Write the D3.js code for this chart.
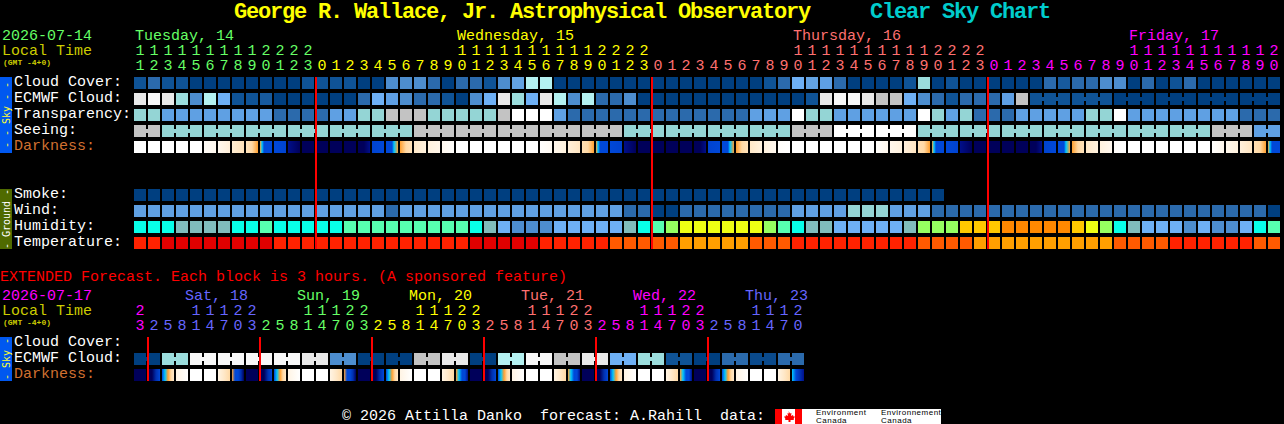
<!DOCTYPE html>
<html>
<head>
<meta charset="utf-8">
<title>Clear Sky Chart</title>
<script src="https://d3js.org/d3.v7.min.js"></script>
<style>
    body { margin: 0; background: #000; overflow: hidden; }
    svg { display: block; }
    text { font-family: "Liberation Mono", monospace; font-size: 15px; white-space: pre; }
    .title { font-size: 22px; font-weight: bold; letter-spacing: -1.2px; }
    .small { font-size: 8px; font-weight: bold; }
    .cell { shape-rendering: crispEdges; }
</style>
</head>
<body>
<div id="chart"></div>
<script>
// Hours along the top of the chart
const hours = [11,12,13,14,15,16,17,18,19,20,21,22,23,
    0,1,2,3,4,5,6,7,8,9,10,11,12,13,14,15,16,17,18,19,20,21,22,23,
    0,1,2,3,4,5,6,7,8,9,10,11,12,13,14,15,16,17,18,19,20,21,22,23,
    0,1,2,3,4,5,6,7,8,9,10,11,12,13,14,15,16,17,18,19,20];
const dayNames = ["Tuesday, 14", "Wednesday, 15", "Thursday, 16", "Friday, 17"];
const dayLabelCols = [0, 23, 47, 71];
const midnightCols = [13, 37, 61];

// Cloud levels in percent (also used for the ECMWF row)
const cloudCover = [10,20,10,10,0,0,0,0,0,0,0,0,10,10,10,10,0,0,30,30,30,
    20,0,20,20,10,30,40,70,70,0,0,0,0,0,0,0,0,0,0,0,0,0,0,0,10,20,50,40,45,20,0,
    0,0,0,10,60,0,10,0,0,0,0,0,0,20,15,20,20,30,30,0,20,0,10,20,0,0,0,0,0,0];
const ecmwfCloud = [90,100,90,60,30,70,50,10,10,15,0,0,0,0,0,0,20,50,45,30,20,
    20,10,0,30,50,90,60,50,90,70,30,70,20,20,30,0,0,0,0,0,0,0,0,0,0,0,0,10,90,100,100,
    90,80,80,50,30,20,10,20,20,20,45,80,10,10,10,10,10,10,0,0,0,0,0,0,0,0,0,0,0,0];
const ecmwfBlocks = [...d3.range(64).map(() => 1), 3, 3, 3, 3, 3, 3];

// Levels: 0 poor ... 4 excellent
const transparency = [2,2,1,1,1,1,1,1,1,1,0,0,0,0,1,1,2,2,3,3,3,
    2,2,2,2,2,3,4,4,4,1,0,0,0,0,0,0,0,0,0,0,0,0,0,1,1,1,4,2,2,1,1,
    1,1,1,1,4,2,1,2,0,0,0,1,1,1,1,1,2,2,4,1,1,1,1,1,1,1,1,0,0,0];
const seeing = [3,3,2,2,2,2,2,2,2,2,2,2,2,2,2,2,2,2,2,2,3,
    3,3,3,3,3,3,3,3,3,3,3,3,3,3,2,2,2,2,2,2,2,2,2,2,2,2,3,3,3,4,4,
    4,4,4,4,2,2,2,2,2,2,2,2,2,2,2,2,2,2,2,2,2,2,2,2,2,3,3,3,1,1];
const seeingBlocks = [2,3,3,3,3,3,3,3,3,3,3,3,3,3,3,3,3,3,3,3,3,3,3,3,3,3,3,2];

// Sampled darkness along each block, 0 daylight to 9 full night
const darkness = [[0],[0],[0],[0],[0],[0.3,0.6],[0.6,1.4],[1.6,2.4],[2.3,3,4],[4,5,6,6,6,6,6],
    [6,6.2],[8,9],[9],[9],[9],[9],[9,9,8],[6.2,6],[6,6,6,6,5,4.5,4],[4,3,2.4],[2,1.2],
    [1.2,0.8],[0.6,0.1],[0],[0],[0],[0],[0],[0],[0.1,0.5],[0.7,1.2],[1.4,2.2],[2.6,3,4],[4,5,6,6,6,6,6],
    [6,6.2],[8,9],[9],[9],[9],[9],[9,9,8],[6.2,6],[6,6,6,6,5,4.5,4],[4,3,2.4],[2,1.2],[1.2,0.6],[0.2,0],
    [0],[0],[0],[0],[0],[0],[0.1,0.7],[0.7,1.2],[1.3,2.2],[2.6,3,4],[4,5,6,6,6,6,6],
    [6,6.2],[8,9],[9],[9],[9],[9],[9,9,8],[6.2,6],[6,6,6,6,5,4.5,4],[4,3,2.4],[2,1.2],[1.2,0.6],[0.2,0],
    [0],[0],[0],[0],[0],[0],[0.1,0.7],[0.7,1.2],[1.3,2.2],[2.6,3,4],[4,5,6,6,6,6,6]];

const smoke = d3.range(58).map(() => 0);
const wind = [2,2,2,2,2,2,2,2,2,2,2,2,2,2,2,2,2,2,1,2,2,
    2,2,2,2,2,2,2,2,2,2,2,2,2,2,1,1,0,0,1,1,1,1,1,1,1,1,2,2,2,2,3,
    3,3,2,2,2,1,1,1,1,1,1,1,1,1,1,1,1,1,1,1,1,1,1,1,1,1,1,1,1,0];
// Humidity band names
const humidity = ["cy","cy","cy","gr","gr","gr","gr","cy","cy","mi","cy","cy","cy","cy","cy","mi","mi","mi","mi","mi","mi",
    "mi","mi","mi","cy","gr","sp","bl","bl","bl","sp","sp","sp","sp","sp","gr","cy","mi","li","ye","ye","ye","ye","ye","ye","li","mi","cy","gr","gr","sp","sp",
    "sp","sp","sp","gr","li","li","li","go","go","go","or","or","or","or","or","go","ye","li","cy","gr","sp","sp","sp","bl","sp","bl","bl","sp","cy","mi"];
// Temperature bands: 0 coldest of this chart ... 3 warmest
const temperature = [1,1,0,0,0,0,0,0,0,0,1,1,1,1,1,1,1,1,1,1,1,
    1,1,1,0,0,0,0,0,1,1,1,1,1,2,2,2,2,2,3,3,3,3,3,2,2,2,1,1,1,1,1,
    1,1,1,1,2,2,2,2,3,3,3,3,3,3,3,3,3,3,2,2,2,2,1,1,1,1,1,1,2,2];

// Extended forecast, one entry per three hours
const extHours = [23,2,5,8,11,14,17,20,23,2,5,8,11,14,17,20,23,2,5,8,11,14,17,20,
    23,2,5,8,11,14,17,20,23,2,5,8,11,14,17,20,23,2,5,8,11,14,17,20];
const extDayNames = ["Sat, 18", "Sun, 19", "Mon, 20", "Tue, 21", "Wed, 22", "Thu, 23"];
const extCloud = [0,0,60,60,100,100,100,100,100,100,100,100,90,90,30,30,0,0,0,0,80,80,90,90,
    0,0,70,70,100,100,80,80,90,90,50,50,60,60,10,10,0,0,20,20,5,5,20,20];
const extDarkness = [[9],[9,9,7,6],[6,5,4,3,2],[1,0],[0],[0],[1,2,3],[4,6,6,7,9],
    [9],[9,9,7,6],[6,5,4,3,2],[1,0],[0],[0],[1,2,3],[4,6,6,7,9],
    [9],[9,9,7,6],[6,5,4,3,2],[1,0],[0],[0],[1,2,3],[4,5,6,6,8],
    [9],[9,9,7,6],[6,5,4,3,2],[1,0],[0],[0],[1,2,3],[4,5,6,6,8],
    [9],[9,9,7,6],[6,5,4,3,2],[1,0],[0],[0],[1,2,3],[4,5,6,6,8],
    [9],[9,9,7,6],[6,5,4,3,2],[1,0],[0],[0],[1,2,3],[5,6,7,8]];

const rowNames = ["Cloud Cover:", "ECMWF Cloud:", "Transparency:", "Seeing:", "Darkness:"];
const groundNames = ["Smoke:", "Wind:", "Humidity:", "Temperature:"];
const extRowNames = ["Cloud Cover:", "ECMWF Cloud:", "Darkness:"];

// Colours
const cloudColor = d3.scaleOrdinal()
    .domain([0,5,10,15,20,30,40,45,50,60,70,80,90,100])
    .range(["#003f80","#0a4a8c","#0f5396","#175a9e","#2b6aac","#4d8dce","#63a3e3","#5e9fe4","#6eb0f5","#9bdddd","#b4f1f1","#c3c3c3","#e9e9e9","#f8f8f8"]);
const skyLevel = d3.scaleOrdinal().domain([0,1,2,3,4])
    .range(["#2b6aac","#5fa0e3","#94d5d5","#c3c3c3","#ffffff"]);
const windColor = d3.scaleOrdinal().domain([0,1,2,3])
    .range(["#003f80","#2b6aac","#5fa0e3","#94d5d5"]);
const humidityColor = d3.scaleOrdinal()
    .domain(["cy","gr","mi","sp","bl","li","ye","go","or"])
    .range(["#08ffe8","#80bcbc","#57ffb0","#6eb0f5","#4d8dce","#96ff60","#eeff14","#ffc800","#ff8800"]);
const tempColor = d3.scaleOrdinal().domain([0,1,2,3])
    .range(["#e00000","#ff2200","#ff5a00","#ff9f00"]);
const darkColor = d3.scaleLinear().domain(d3.range(10))
    .range(["#ffffff","#fff4e4","#ffe8c8","#ffd9a5","#ffa030","#00c8ff","#0048d8","#0030b0","#000f8a","#00005a"]);

const dayColors = ["#66ff66", "#ffff00", "#ff7070", "#ff00ff", "#6666ff"];

const svg = d3.select("#chart").append("svg")
    .attr("width", 1284).attr("height", 424);
const defs = svg.append("defs");

// Scales: blocks are 12 wide on a 14 step, rows 12 tall on a 16 step
const x = d3.scaleBand().domain(d3.range(hours.length)).range([134, 1280]).paddingInner(1 / 7);
const extX = d3.scaleBand().domain(d3.range(extHours.length)).range([134, 804]).paddingInner(1 / 7);
const skyY = d3.scaleBand().domain(rowNames).range([77, 153]).paddingInner(1 / 4);
const groundY = d3.scaleBand().domain(groundNames).range([189, 249]).paddingInner(1 / 4);
const extY = d3.scaleBand().domain(extRowNames).range([337, 381]).paddingInner(1 / 4);

function drawRow(values, xs, y, color) {
    svg.append("g").selectAll("rect").data(values).enter().append("rect")
        .attr("class", "cell")
        .attr("x", (d, i) => xs(i))
        .attr("y", y)
        .attr("width", xs.bandwidth())
        .attr("height", 12)
        .attr("fill", d => color(d));
}

// Blocks of the same forecast step are tied together by a strip through the gap
function drawJoins(values, blocks, xs, y, color) {
    let col = 0;
    const joins = [];
    blocks.forEach(n => {
        d3.range(n - 1).forEach(k => joins.push(col + k));
        col += n;
    });
    svg.append("g").selectAll("rect").data(joins).enter().append("rect")
        .attr("class", "cell")
        .attr("x", d => xs(d) + xs.bandwidth())
        .attr("y", y + 4)
        .attr("width", xs.step() - xs.bandwidth())
        .attr("height", 4)
        .attr("fill", d => color(values[d]));
}

let gradId = 0;
function drawDarkness(values, xs, y) {
    svg.append("g").selectAll("rect").data(values).enter().append("rect")
        .attr("class", "cell")
        .attr("x", (d, i) => xs(i))
        .attr("y", y)
        .attr("width", xs.bandwidth())
        .attr("height", 12)
        .attr("fill", d => {
            if (d.length === 1) return darkColor(d[0]);
            const id = "dark" + (gradId++);
            const grad = defs.append("linearGradient").attr("id", id);
            d.forEach((v, k) => {
                grad.append("stop")
                    .attr("offset", k / (d.length - 1))
                    .attr("stop-color", darkColor(v));
            });
            return `url(#${id})`;
        });
}

function drawLabels(names, yScale, offset) {
    names.forEach(name => {
        svg.append("text")
            .attr("x", 14)
            .attr("y", yScale(name) + offset)
            .attr("fill", name === "Darkness:" ? "#d07030" : "#ffffff")
            .text(name);
    });
}

function sideBar(y0, y1, fill, textColor, label) {
    svg.append("rect").attr("class", "cell")
        .attr("x", 0).attr("y", y0).attr("width", 12).attr("height", y1 - y0).attr("fill", fill);
    svg.append("text")
        .attr("transform", `translate(9.5,${(y0 + y1) / 2}) rotate(-90)`)
        .attr("text-anchor", "middle")
        .attr("fill", textColor)
        .style("font-size", "10px")
        .style("font-family", "'DejaVu Sans Mono', monospace")
        .text(label);
}

function hourDigits(list, xs, colorOf, yTens, yUnits) {
    list.forEach((h, i) => {
        const cx = xs(i) + xs.bandwidth() / 2;
        if (h >= 10) {
            svg.append("text").attr("x", cx).attr("y", yTens)
                .attr("text-anchor", "middle").attr("fill", colorOf(i)).text(Math.floor(h / 10));
        }
        svg.append("text").attr("x", cx).attr("y", yUnits)
            .attr("text-anchor", "middle").attr("fill", colorOf(i)).text(h % 10);
    });
}

// Title
svg.append("text").attr("class", "title").attr("x", 234).attr("y", 18).attr("fill", "#ffff00")
    .text("George R. Wallace, Jr. Astrophysical Observatory");
svg.append("text").attr("class", "title").attr("x", 870).attr("y", 18).attr("fill", "#00cccc")
    .text("Clear Sky Chart");

// Header of the main chart
svg.append("text").attr("x", 2).attr("y", 40).attr("fill", "#66ff66").text("2026-07-14");
svg.append("text").attr("x", 2).attr("y", 55).attr("fill", "#cccc00").text("Local Time");
svg.append("text").attr("class", "small").attr("x", 3).attr("y", 65).attr("fill", "#cccc00").text("(GMT -4+0)");
dayNames.forEach((name, i) => {
    svg.append("text").attr("x", x(dayLabelCols[i]) + 1).attr("y", 40)
        .attr("fill", dayColors[i]).text(name);
});
hourDigits(hours, x, i => dayColors[d3.bisectRight(midnightCols, i)], 55, 70);

// Main rows
sideBar(77, 153, "#0058f0", "#ffff33", "- - Sky - -");
sideBar(189, 249, "#4f6a00", "#ffffff", "- Ground -");
drawLabels(rowNames, skyY, 9);
drawLabels(groundNames, groundY, 9);

drawRow(cloudCover, x, skyY("Cloud Cover:"), cloudColor);
drawRow(ecmwfCloud, x, skyY("ECMWF Cloud:"), cloudColor);
drawJoins(ecmwfCloud, ecmwfBlocks, x, skyY("ECMWF Cloud:"), cloudColor);
drawRow(transparency, x, skyY("Transparency:"), skyLevel);
drawRow(seeing, x, skyY("Seeing:"), skyLevel);
drawJoins(seeing, seeingBlocks, x, skyY("Seeing:"), skyLevel);
drawDarkness(darkness, x, skyY("Darkness:"));

drawRow(smoke, x, groundY("Smoke:"), windColor);
drawRow(wind, x, groundY("Wind:"), windColor);
drawRow(humidity, x, groundY("Humidity:"), humidityColor);
drawRow(temperature, x, groundY("Temperature:"), tempColor);

// Midnight lines
svg.append("g").selectAll("rect").data(midnightCols).enter().append("rect")
    .attr("class", "cell")
    .attr("x", d => x(d) - 1).attr("y", 77)
    .attr("width", 2).attr("height", 172)
    .attr("fill", "#ff0000");

// Extended forecast
svg.append("text").attr("x", 0).attr("y", 281).attr("fill", "#ff0000")
    .text("EXTENDED Forecast. Each block is 3 hours. (A sponsored feature)");
svg.append("text").attr("x", 2).attr("y", 300).attr("fill", "#ff00ff").text("2026-07-17");
svg.append("text").attr("x", 2).attr("y", 315).attr("fill", "#cccc00").text("Local Time");
svg.append("text").attr("class", "small").attr("x", 3).attr("y", 325).attr("fill", "#cccc00").text("(GMT -4+0)");

const extColors = ["#ff00ff", "#6666ff", "#66ff66", "#ffff00", "#ff7070", "#ff00ff", "#6666ff"];
extDayNames.forEach((name, i) => {
    svg.append("text").attr("x", extX(4 + i * 8) - 5).attr("y", 300)
        .attr("fill", extColors[i + 1]).text(name);
});
hourDigits(extHours, extX, i => extColors[Math.ceil(i / 8)], 315, 330);

sideBar(337, 381, "#0058f0", "#ffff33", "- Sky -");
drawLabels(extRowNames, extY, 9);
drawRow(extCloud, extX, extY("ECMWF Cloud:"), cloudColor);
drawJoins(extCloud, d3.range(24).map(() => 2), extX, extY("ECMWF Cloud:"), cloudColor);
drawDarkness(extDarkness, extX, extY("Darkness:"));

svg.append("g").selectAll("rect").data(d3.range(1, 48, 8)).enter().append("rect")
    .attr("class", "cell")
    .attr("x", d => extX(d) - 1).attr("y", 337)
    .attr("width", 2).attr("height", 44)
    .attr("fill", "#ff0000");

// Footer with the Environment Canada mark
svg.append("text").attr("x", 342).attr("y", 420).attr("fill", "#ffffff")
    .text("\u00a9 2026 Attilla Danko  forecast: A.Rahill  data:");
svg.append("rect").attr("x", 775).attr("y", 409).attr("width", 166).attr("height", 15).attr("fill", "#ffffff");
svg.append("rect").attr("class", "cell").attr("x", 775).attr("y", 409).attr("width", 7).attr("height", 15).attr("fill", "#ff0000");
svg.append("rect").attr("class", "cell").attr("x", 795).attr("y", 409).attr("width", 7).attr("height", 15).attr("fill", "#ff0000");
svg.append("path").attr("fill", "#ff0000")
    .attr("d", "M788.5 411l1.5 2.5 1.5-.5-.5 3 2-1 .5 1.5 1.5 0-1.5 2.5.5 1-3.5 0 0 2-1.5 0-.5 0 0-2-3.5 0 .5-1-1.5-2.5 1.5 0 .5-1.5 2 1-.5-3 1.5.5z");
[["Environment", 816, 415], ["Canada", 816, 423], ["Environnement", 881, 415], ["Canada", 881, 423]]
    .forEach(d => {
        svg.append("text").attr("x", d[1]).attr("y", d[2]).attr("fill", "#000000")
            .style("font-size", "8px")
            .style("letter-spacing", "0.5px")
            .style("font-family", "'Liberation Sans', sans-serif")
            .text(d[0]);
    });
</script>
</body>
</html>
